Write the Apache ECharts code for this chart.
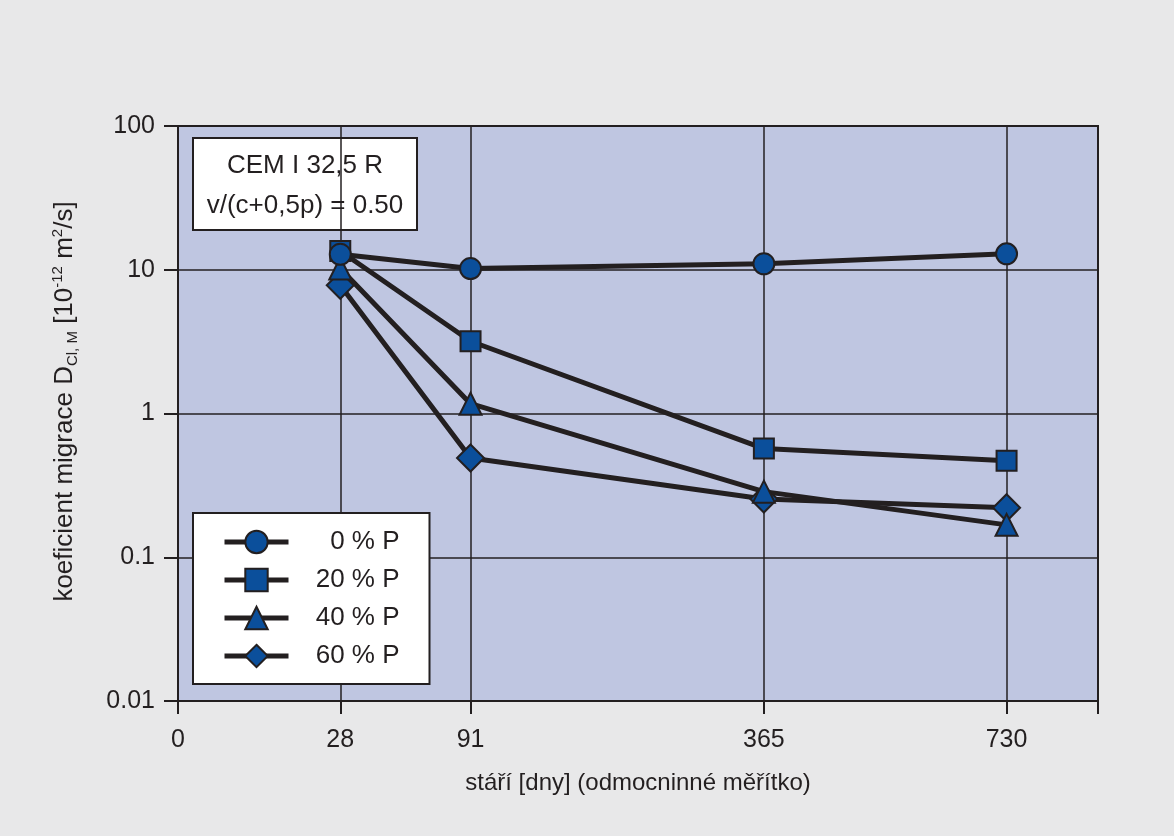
<!DOCTYPE html>
<html>
<head>
<meta charset="utf-8">
<script src="https://cdn.jsdelivr.net/npm/echarts@6/dist/echarts.min.js"></script>
<style>
html,body{margin:0;padding:0;background:#e8e8e9;}
#c{width:1174px;height:836px;}
</style>
</head>
<body>
<div id="c"></div>
<script>
// ---- data ----
const days = [28, 91, 365, 730];
const names = ['0 % P', '20 % P', '40 % P', '60 % P'];
const p0  = [12.8, 10.2, 11.0, 12.9];
const p20 = [13.5, 3.18, 0.57, 0.47];
const p40 = [10.2, 1.17, 0.286, 0.168];
const p60 = [7.8, 0.49, 0.254, 0.221];
const xTickDays = [0, 28, 91, 365, 730];
const xMaxDays = 900;
const yMin = 0.01, yMax = 100;

const INK = '#231f20';
const FILL = '#0b4f9b';
const FONT = 'Liberation Sans';

const sq = v => Math.sqrt(v);
const toPts = arr => days.map((d, i) => [sq(d), arr[i]]);

const symbols = ['circle', 'rect', 'triangle', 'diamond'];
const sizes = [21, 20, 22, 27];
const values = [p0, p20, p40, p60];

const series = values.map((v, i) => ({
  name: names[i],
  type: 'line',
  data: toPts(v),
  symbol: symbols[i],
  symbolSize: sizes[i],
  showAllSymbol: true,
  lineStyle: { color: INK, width: 5 },
  itemStyle: { color: FILL, borderColor: INK, borderWidth: 2 },
  emphasis: { disabled: true }
})).reverse().map((s, k) => { s.z = 2 + k; return s; });

const chart = echarts.init(document.getElementById('c'));
chart.setOption({
  backgroundColor: '#e8e8e9',
  animation: false,
  textStyle: { fontFamily: FONT, color: INK },
  grid: {
    left: 178, right: 76, top: 126, bottom: 135,
    show: true, backgroundColor: '#bfc6e1', borderColor: INK, borderWidth: 2
  },
  legend: {
    orient: 'vertical',
    left: 193, top: 513,
    data: names,
    backgroundColor: '#ffffff',
    borderColor: INK, borderWidth: 2, borderRadius: 0,
    padding: [16, 30, 15, 29],
    itemWidth: 64, itemHeight: 28, itemGap: 12,
    lineStyle: { width: 5 },
    formatter: n => '{a|' + n + '}',
    textStyle: {
      color: INK, fontFamily: FONT, fontSize: 26,
      rich: { a: { width: 106, align: 'right', fontSize: 26, color: INK, fontFamily: FONT } }
    },
    selectedMode: false
  },
  xAxis: {
    type: 'value',
    min: 0, max: sq(xMaxDays),
    name: 'stáří [dny] (odmocninné měřítko)',
    nameLocation: 'middle', nameGap: 70,
    nameTextStyle: { fontSize: 24, color: INK, fontFamily: FONT },
    axisLine: { show: true, onZero: false, lineStyle: { color: INK, width: 2 } },
    axisTick: { show: true, length: 13, customValues: xTickDays.map(sq).concat([sq(xMaxDays)]), lineStyle: { color: INK, width: 2 } },
    axisLabel: {
      customValues: xTickDays.map(sq),
      margin: 27, fontSize: 25, color: INK, fontFamily: FONT,
      formatter: v => String(Math.round(v * v))
    },
    splitLine: { show: true, lineStyle: { color: INK, width: 1.5 } }
  },
  yAxis: {
    type: 'log', logBase: 10, min: yMin, max: yMax,
    name: '{n|koeficient migrace D}{sub|Cl, M}{n| [10}{sup|-12}{n| m}{sup|2}{n|/s]}',
    nameLocation: 'middle', nameGap: 98,
    nameTextStyle: {
      fontSize: 26, color: INK, fontFamily: FONT,
      padding: [0, 0, 0, 24],
      rich: {
        n: { fontSize: 26, color: INK, fontFamily: FONT, lineHeight: 30 },
        sub: { fontSize: 15, color: INK, fontFamily: FONT, verticalAlign: 'bottom', lineHeight: 30, padding: [10, 0, 0, 0] },
        sup: { fontSize: 15, color: INK, fontFamily: FONT, verticalAlign: 'top', lineHeight: 30, padding: [0, 0, 10, 0] }
      }
    },
    axisLine: { show: true, lineStyle: { color: INK, width: 2 } },
    axisTick: { show: true, length: 14, lineStyle: { color: INK, width: 2 } },
    axisLabel: {
      margin: 23, fontSize: 25, color: INK, fontFamily: FONT,
      formatter: v => {
        const map = { 0.01: '0.01', 0.1: '0.1', 1: '1', 10: '10', 100: '100' };
        return map[v] !== undefined ? map[v] : String(v);
      }
    },
    splitLine: { show: true, lineStyle: { color: INK, width: 1.5 } },
    minorTick: { show: false }
  },
  graphic: [{
    type: 'group', left: 192, top: 137, z: 50,
    children: [
      { type: 'rect', shape: { x: 0, y: 0, width: 224, height: 92 },
        style: { fill: '#ffffff', stroke: INK, lineWidth: 2 } },
      { type: 'text', x: 112, y: 28,
        style: { text: 'CEM I 32,5 R', fill: INK, font: '26px "Liberation Sans"', align: 'center', verticalAlign: 'middle' } },
      { type: 'text', x: 112, y: 68,
        style: { text: 'v/(c+0,5p) = 0.50', fill: INK, font: '26px "Liberation Sans"', align: 'center', verticalAlign: 'middle' } }
    ]
  }],
  series: series
});
</script>
</body>
</html>
